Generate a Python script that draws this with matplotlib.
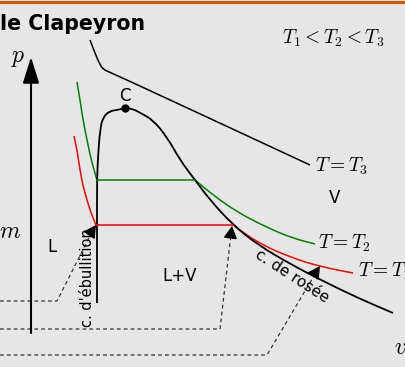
import numpy as np
import matplotlib.pyplot as plt
from matplotlib.path import Path
from matplotlib.patches import PathPatch

plt.rcParams['mathtext.fontset'] = 'cm'

# curves (pixel coords, y downward)
bubble_x = [97, 97, 97, 98, 100, 103, 110, 117, 125]
bubble_y = [303, 225, 180, 157, 130, 117, 111, 110, 108]
dew_x = [125, 133, 140, 153, 167, 180, 195, 210, 233, 258, 292, 325, 358, 393]
dew_y = [108, 109, 112.7, 120, 137, 160, 180, 200, 225, 245, 265, 282, 298, 313]

t3_x = [90, 95, 100, 104, 110, 310]
t3_y = [40, 53, 65, 70, 72, 165]
t2_left_x = [77, 80, 83, 88, 92, 97]
t2_left_y = [82, 100, 120, 145, 163, 180]
t2_right_x = [195, 213, 237, 266, 292, 315]
t2_right_y = [180, 195, 212, 227, 238, 244]
t1_left_x = [74, 77, 80, 83, 87, 91, 96]
t1_left_y = [136, 150, 170, 186, 200, 213, 225]
t1_right_x = [233, 258, 292, 322, 353]
t1_right_y = [225, 243, 258, 267, 273]
p_m = 225        # red plateau
p_2 = 180        # green plateau

# dashed pointers: path then arrow tip
d1_x = [0, 57, 94]
d1_y = [301, 301, 228]
d1_tip = (96, 225)
d2_x = [0, 220, 231.6]
d2_y = [329, 329, 229]
d2_tip = (232, 226)
d3_x = [0, 267, 318]
d3_y = [355, 355, 269]
d3_tip = (320, 266)


def smooth(ax, xs, ys, **kw):
    # quadratic bezier through midpoints, drawn by matplotlib's Path
    pts = list(zip(xs, ys))
    verts = [pts[0]]
    codes = [Path.MOVETO]
    if len(pts) > 2:
        m = ((pts[0][0] + pts[1][0]) / 2, (pts[0][1] + pts[1][1]) / 2)
        verts.append(m)
        codes.append(Path.LINETO)
        for i in range(1, len(pts) - 1):
            m = ((pts[i][0] + pts[i + 1][0]) / 2, (pts[i][1] + pts[i + 1][1]) / 2)
            verts += [pts[i], m]
            codes += [Path.CURVE3, Path.CURVE3]
    verts.append(pts[-1])
    codes.append(Path.LINETO)
    ax.add_patch(PathPatch(Path(verts, codes), fill=False, capstyle='butt', **kw))


bg = '#e6e6e6'
fig = plt.figure(figsize=(4.05, 3.67), dpi=100, facecolor=bg)
ax = fig.add_axes([0, 0, 1, 1])
ax.set_facecolor(bg)
ax.set_xlim(0, 405)
ax.set_ylim(367, 0)
ax.axis('off')

# top orange rule and title
ax.axhline(2, color='#d45500', lw=2.2)
ax.text(145, 30, 'le Clapeyron', ha='right', va='baseline', fontsize=14.8, fontweight='bold')
ax.text(333, 38, r'$T_1 < T_2 < T_3$', ha='center', va='center', fontsize=14)

# axes with arrows
ax.annotate('', xy=(31, 57), xytext=(31, 333),
            arrowprops=dict(arrowstyle='-|>,head_length=0.8,head_width=0.25', lw=1.5,
                            color='k', mutation_scale=20, shrinkA=0, shrinkB=0))
ax.annotate('', xy=(407, 332), xytext=(30, 332),
            arrowprops=dict(arrowstyle='-|>,head_length=0.8,head_width=0.25', lw=1.5,
                            color='k', mutation_scale=20, shrinkA=0, shrinkB=0))
ax.text(18, 57, r'$p$', ha='center', va='center', fontsize=17)
ax.text(401, 347, r'$v$', ha='center', va='center', fontsize=17)
ax.text(10, 231, r'$m$', ha='center', va='center', fontsize=17)

# isotherms
smooth(ax, t3_x, t3_y, color='k', lw=1.1)
smooth(ax, t2_left_x, t2_left_y, color='#008000', lw=1.1)
ax.plot([t2_left_x[-1], t2_right_x[0]], [p_2, p_2], color='#008000', lw=1.1)
smooth(ax, t2_right_x, t2_right_y, color='#008000', lw=1.1)
smooth(ax, t1_left_x, t1_left_y, color='#ff0000', lw=1.1)
ax.plot([t1_left_x[-1], t1_right_x[0]], [p_m, p_m], color='#ff0000', lw=1.1)
smooth(ax, t1_right_x, t1_right_y, color='#ff0000', lw=1.1)

# saturation dome
smooth(ax, bubble_x, bubble_y, color='k', lw=1.3)
smooth(ax, dew_x, dew_y, color='k', lw=1.3)
ax.plot([125], [108], 'o', color='k', ms=5)

# dashed pointers
for xs, ys, tip in [(d1_x, d1_y, d1_tip), (d2_x, d2_y, d2_tip), (d3_x, d3_y, d3_tip)]:
    ax.plot(xs, ys, color='#333333', lw=0.9, dashes=(3, 2.5))
    ax.annotate('', xy=tip, xytext=(xs[-1], ys[-1]),
                arrowprops=dict(arrowstyle='-|>,head_length=0.55,head_width=0.3', lw=0.9,
                                color='k', mutation_scale=14, shrinkA=0, shrinkB=0))

# labels
ax.text(315, 166, r'$T = T_3$', ha='left', va='center', fontsize=14)
ax.text(318, 243, r'$T = T_2$', ha='left', va='center', fontsize=14)
ax.text(358, 271, r'$T = T_1$', ha='left', va='center', fontsize=14)
ax.text(125, 96, 'C', ha='center', va='center', fontsize=12)
ax.text(335, 198, 'V', ha='center', va='center', fontsize=12)
ax.text(52, 247, 'L', ha='center', va='center', fontsize=12)
ax.text(180, 276, 'L+V', ha='center', va='center', fontsize=12)
ax.text(88, 278, "c. d'ébullition", ha='center', va='center', rotation=90, fontsize=10.5)
ax.text(292, 276, 'c. de rosée', ha='center', va='center', rotation=-33,
        rotation_mode='anchor', fontsize=11)

fig.savefig('out.png', dpi=100, facecolor=bg)
